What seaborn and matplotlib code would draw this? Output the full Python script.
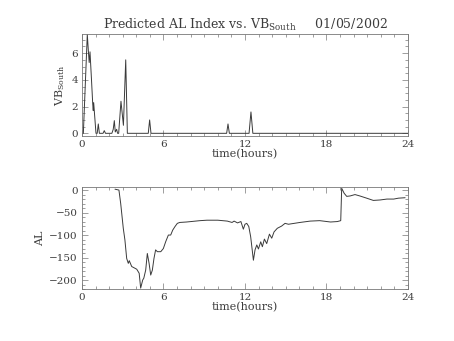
import matplotlib
matplotlib.use("Agg")
import matplotlib.pyplot as plt
from matplotlib.ticker import MultipleLocator
import pandas as pd
import seaborn as sns

# VB_South (top panel), hours vs value
vb_time = [0.0, 0.1, 0.39, 0.48, 0.53, 0.59, 0.7, 0.79, 0.83, 0.86, 1.03,
           1.12, 1.2, 1.28, 1.55, 1.64, 1.73, 2.2, 2.3, 2.38, 2.45, 2.55,
           2.62, 2.7, 2.87, 3.05, 3.22, 3.34, 4.88, 4.98, 5.08, 10.65,
           10.75, 10.85, 12.3, 12.44, 12.58, 24.0]
vb_vals = [0.0, 0.0, 7.4, 6.0, 5.3, 6.1, 4.0, 2.2, 1.7, 2.3, 0.0,
           0.0, 0.7, 0.0, 0.0, 0.2, 0.0, 0.0, 0.3, 0.95, 0.1, 0.3,
           0.0, 0.0, 2.4, 0.6, 5.5, 0.0, 0.0, 1.0, 0.0, 0.0,
           0.7, 0.0, 0.0, 1.6, 0.0, 0.0]

# predicted AL (bottom panel)
al_time = [2.43, 2.72, 2.85, 3.04, 3.16, 3.29, 3.41, 3.48, 3.66, 4.03, 4.21,
           4.32, 4.47, 4.55, 4.69, 4.81, 4.94, 5.06, 5.18, 5.3, 5.42, 5.55,
           5.8, 5.99, 6.16, 6.36, 6.53, 6.68, 6.85, 7.02, 7.2, 7.7, 8.69,
           9.2, 10.0, 10.7, 11.05, 11.2, 11.45, 11.7, 11.88, 12.0, 12.13,
           12.28, 12.42, 12.62, 12.74, 12.87, 12.99, 13.16, 13.28, 13.43,
           13.6, 13.8, 13.97, 14.14, 14.38, 14.7, 14.95, 15.2, 16.05, 16.8,
           17.5, 18.3, 18.8, 19.05, 19.12, 19.3, 19.49, 19.75, 20.1, 20.45,
           20.96, 21.45, 21.95, 22.45, 22.95, 23.3, 23.79]
al_vals = [2, 0, -30, -85, -111, -152, -163, -157, -170, -176, -185,
           -218, -200, -196, -178, -141, -163, -189, -178, -152, -133, -137,
           -137, -130, -115, -100, -100, -89, -81, -74, -72, -71, -68,
           -67, -67, -69, -72, -69, -73, -70, -87, -76, -74,
           -81, -104, -156, -133, -122, -131, -115, -126, -109,
           -119, -98, -107, -93, -85, -80, -74, -76, -72, -69,
           -68, -71, -70, -68, 4, -7, -14, -13, -10, -13,
           -18, -23, -22, -20, -20, -18, -17]

vb_df = pd.DataFrame({"time": vb_time, "vb": vb_vals})
al_df = pd.DataFrame({"time": al_time, "al": al_vals})

sns.set_style("ticks")
plt.rcParams["font.family"] = ["DejaVu Serif"]
plt.rcParams["axes.edgecolor"] = "#777777"
plt.rcParams["axes.linewidth"] = 0.6
plt.rcParams["text.color"] = "#3c3c3c"
plt.rcParams["axes.labelcolor"] = "#3c3c3c"
plt.rcParams["xtick.labelcolor"] = "#3c3c3c"
plt.rcParams["ytick.labelcolor"] = "#3c3c3c"

fig = plt.figure(figsize=(4.54, 3.41), dpi=100)
ax1 = fig.add_axes([0.1806, 0.6012, 0.718, 0.2977])
ax2 = fig.add_axes([0.1806, 0.1525, 0.718, 0.298])

line_kw = dict(color="#3a3a3a", linewidth=0.7, sort=False, estimator=None)
sns.lineplot(data=vb_df, x="time", y="vb", ax=ax1, **line_kw)
sns.lineplot(data=al_df, x="time", y="al", ax=ax2, **line_kw)

ax1.set_ylim(-0.2, 7.4)
ax2.set_ylim(-220, 6)
ax1.yaxis.set_major_locator(MultipleLocator(2))
ax1.yaxis.set_minor_locator(MultipleLocator(0.5))
ax2.yaxis.set_major_locator(MultipleLocator(50))
ax2.yaxis.set_minor_locator(MultipleLocator(10))

for ax in (ax1, ax2):
    ax.set_xlim(0, 24)
    ax.xaxis.set_major_locator(MultipleLocator(6))
    ax.xaxis.set_minor_locator(MultipleLocator(1))
    ax.tick_params(which="both", direction="in", top=True, right=True,
                   color="#777777", width=0.5, labelsize=7.5, pad=3)
    ax.tick_params(which="major", length=4)
    ax.tick_params(which="minor", length=2)
    ax.set_xlabel("time(hours)", fontsize=8, labelpad=0)

ax1.set_ylabel("VB$_{\\mathregular{South}}$", fontsize=8, labelpad=3)
ax2.set_ylabel("AL", fontsize=8, labelpad=3)
ax1.set_title("Predicted AL Index vs. VB$_{\\mathregular{South}}$     01/05/2002",
              fontsize=9, pad=4)

fig.savefig("out.png", dpi=100)
